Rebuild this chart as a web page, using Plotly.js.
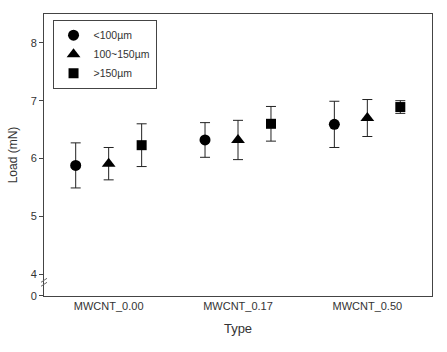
<!DOCTYPE html>
<html><head><meta charset="utf-8">
<script src="https://cdn.plot.ly/plotly-3.0.1.min.js"></script>
<style>html,body{margin:0;padding:0;background:#fff}#chart{width:447px;height:352px}</style>
</head><body><div id="chart"></div>
<script>
const categories = ["MWCNT_0.00", "MWCNT_0.17", "MWCNT_0.50"];
const seriesNames = ["<100\u00b5m", "100~150\u00b5m", ">150\u00b5m"];
const symbols = ["circle", "triangle-up", "square"];
const small = [5.88, 6.32, 6.59];
const smallErr = [0.39, 0.30, 0.40];
const mid = [5.91, 6.32, 6.70];
const midErr = [0.28, 0.34, 0.32];
const large = [6.23, 6.60, 6.89];
const largeErr = [0.37, 0.30, 0.11];
const yTickVals = [3.625, 4, 5, 6, 7, 8];
const yTickText = ["0", "4", "5", "6", "7", "8"];

const values = [small, mid, large];
const errs = [smallErr, midErr, largeErr];
const offsets = [-0.255, 0, 0.255];
const sizes = [11, 12, 10];

const traces = values.map((v, i) => ({
  type: "scatter", mode: "markers", name: seriesNames[i],
  x: categories.map((c, j) => j + offsets[i]),
  y: v,
  marker: {symbol: symbols[i], size: sizes[i], color: "#000"},
  error_y: {type: "data", array: errs[i], visible: true, color: "#222", thickness: 1, width: 5}
}));

const layout = {
  width: 447, height: 352,
  margin: {l: 44, r: 15, t: 14, b: 56},
  paper_bgcolor: "#fff", plot_bgcolor: "#fff",
  font: {family: "Liberation Sans, Arial, sans-serif", size: 11, color: "#333"},
  showlegend: true,
  legend: {x: 0.022, y: 0.98, xanchor: "left", yanchor: "top", bordercolor: "#444", borderwidth: 1,
    bgcolor: "#fff", font: {size: 10.5, color: "#333"}, tracegroupgap: 0, itemwidth: 30},
  xaxis: {range: [-0.5, 2.5], tickvals: [0, 1, 2], ticktext: categories, showgrid: false, zeroline: false,
    showline: true, linecolor: "#444", linewidth: 1, mirror: true, ticks: "",
    title: {text: "Type", font: {size: 13, color: "#333"}, standoff: 12}},
  yaxis: {range: [3.62, 8.5], tickvals: yTickVals, ticktext: yTickText, showgrid: false, zeroline: false,
    showline: true, linecolor: "#444", linewidth: 1, mirror: true, ticks: "outside", ticklen: 4, tickcolor: "#444",
    title: {text: "Load (mN)", font: {size: 12, color: "#333"}, standoff: 10}},
  shapes: [
    {type: "line", xref: "paper", yref: "paper", xsizemode: "pixel", ysizemode: "pixel", xanchor: 0, yanchor: 0.045,
     x0: -3, x1: 3, y0: -3, y1: 1, line: {color: "#666", width: 1}},
    {type: "line", xref: "paper", yref: "paper", xsizemode: "pixel", ysizemode: "pixel", xanchor: 0, yanchor: 0.045,
     x0: -3, x1: 3, y0: 1, y1: 5, line: {color: "#666", width: 1}}
  ]
};
Plotly.newPlot("chart", traces, layout, {displayModeBar: false, staticPlot: true});
</script></body></html>
